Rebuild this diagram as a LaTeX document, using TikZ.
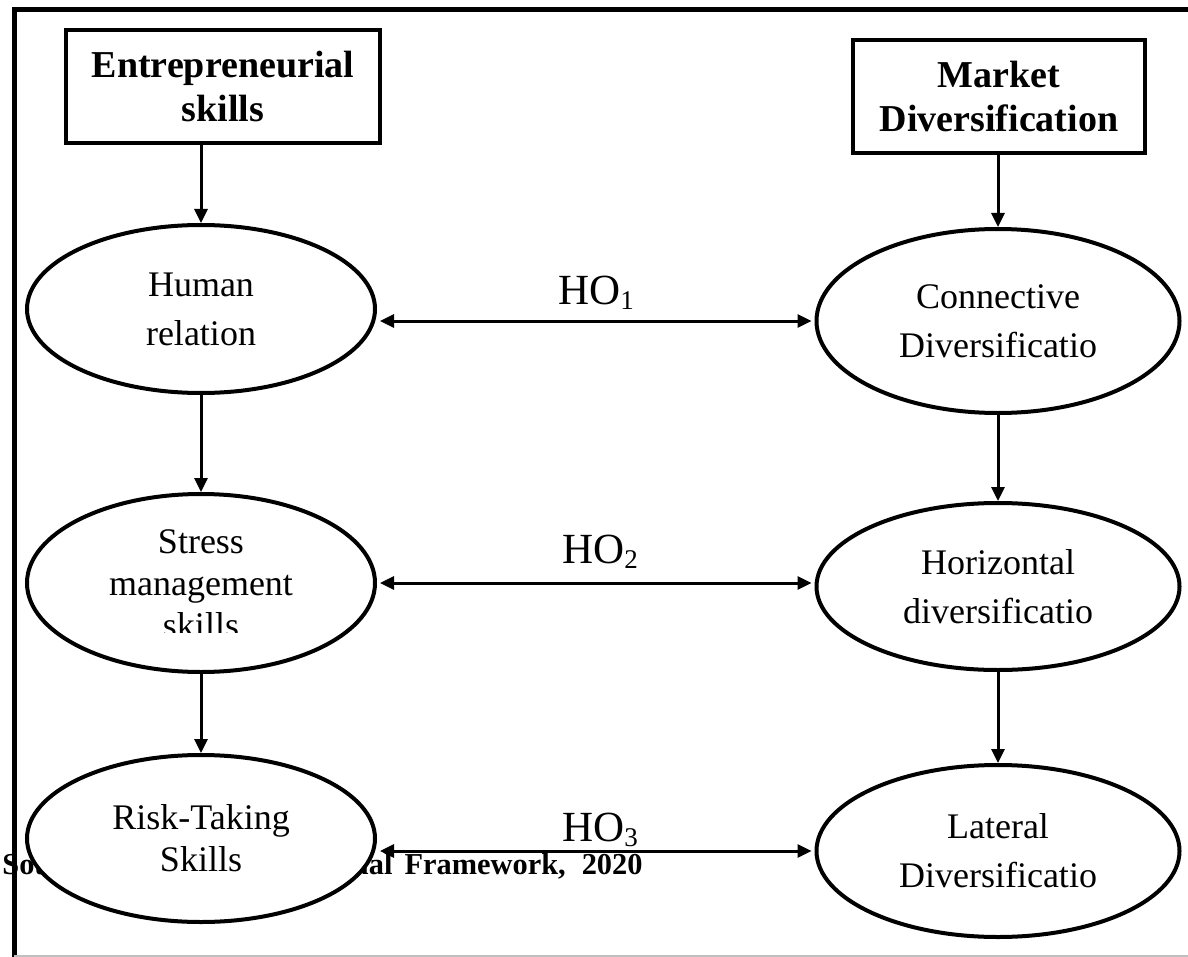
\documentclass[tikz,border=0pt]{standalone}
\usepackage{fontspec}
\setmainfont{Liberation Serif}
\usetikzlibrary{arrows.meta,positioning,shapes.geometric}

\newcommand{\hosub}[1]{\raisebox{-2.5pt}{\fontsize{13.5}{14}\selectfont #1}}

\tikzset{
  ovalnode/.style={draw, ellipse, line width=2pt, fill=white, inner sep=0pt, align=center, font=\fontsize{18}{24.5}\selectfont},
  headbox/.style={draw, rectangle, line width=1.6pt, fill=white, inner sep=0pt, align=center, font=\bfseries\fontsize{19}{22}\selectfont},
  link/.style={line width=1.5pt, -{Triangle[length=7pt,width=6.5pt]}},
  biglink/.style={line width=1.5pt, shorten <=1.5pt, shorten >=1.5pt, {Triangle[length=7pt,width=6.5pt]}-{Triangle[length=7pt,width=6.5pt]}},
  holabel/.style={font=\fontsize{21.5}{24}\selectfont, inner sep=0pt}
}

\begin{document}
\begin{tikzpicture}[x=0.5pt,y=-0.5pt]
\useasboundingbox (0,0) rectangle (1188,957);

% frame
\draw[line width=2.5pt] (12,9.5) -- (1188,9.5);
\draw[line width=2.5pt] (14.5,7) -- (14.5,957);
\draw[black!25, line width=0.6pt] (14,956) -- (1188,956);

\node[anchor=west, inner sep=0pt, font=\bfseries\fontsize{15.2}{17}\selectfont] (src) at (2,867) {\spaceskip=6pt Source: Author's Conceptual Framework,\hspace{8pt}2020};

% heading boxes
\node[headbox, minimum width=157pt, minimum height=56.5pt] (es) at (223,86.5) {Entrepreneurial\\skills};
\node[headbox, minimum width=146pt, minimum height=56.5pt] (md) at (999,96.5) {Market\\Diversification};

% left column
\node[ovalnode, minimum width=174pt, minimum height=84pt] (hr) at (201,309) {Human\\relation};
\node[ovalnode, minimum width=174pt, minimum height=89pt] (sm) at (201,583) {};
\begin{scope}
\clip (28,480) rectangle (375,632);
\node[inner sep=0pt, align=center, font=\fontsize{18}{21}\selectfont] (smtext) at (201,584) {Stress\\management\\skills};
\end{scope}
\node[ovalnode, minimum width=174pt, minimum height=83.5pt, font=\fontsize{18}{21}\selectfont] (rt) at (201,838.5) {Risk-Taking\\Skills};

% right column
\node[ovalnode, minimum width=181.5pt, minimum height=92pt] (cd) at (998,321) {Connective\\Diversificatio};
\node[ovalnode, minimum width=181.5pt, minimum height=83.5pt] (hd) at (998,586.5) {Horizontal\\diversificatio};
\node[ovalnode, minimum width=181.5pt, minimum height=86pt] (ld) at (998,851) {Lateral\\Diversificatio};

% vertical links
\draw[link] (hr.north |- es.south) -- (hr.north);
\draw[link] (hr.south) -- (sm.north);
\draw[link] (sm.south) -- (rt.north);
\draw[link] (cd.north |- md.south) -- (cd.north);
\draw[link] (cd.south) -- (hd.north);
\draw[link] (hd.south) -- (ld.north);

% hypotheses
\draw[biglink] (cd.west -| hr.east) -- (cd.west);
\draw[biglink] (sm.east) -- (sm.east -| hd.west);
\draw[biglink] (ld.west -| rt.east) -- (ld.west);
\node[holabel] (ho1) at (596,293) {HO\hosub{1}};
\node[holabel] (ho2) at (600,552) {HO\hosub{2}};
\node[holabel] (ho3) at (600,830) {HO\hosub{3}};
\end{tikzpicture}
\end{document}
